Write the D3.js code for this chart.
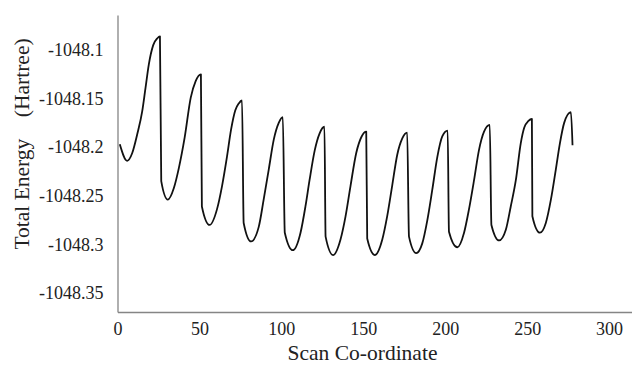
<!DOCTYPE html>
<html lang="en">
<head>
<meta charset="UTF-8">
<title>Total Energy scan</title>
<script src="https://d3js.org/d3.v7.min.js"></script>
<style>
    body { margin: 0; background: #fff; }
    .axis path { stroke: #858585; stroke-width: 1.3; }
    .tick-label { font-family: "Liberation Serif", serif !important; font-size: 18px !important; fill: #222; }
    .axis-title { font-family: "Liberation Serif", serif; font-size: 21.5px; fill: #222; }
</style>
</head>
<body>
<svg width="632" height="367"></svg>
<script>
    // values
    const scanX = [
        1.4, 5.9, 9.0, 12.0, 15.1, 17.1, 19.1, 21.8, 24.3, 25.9,
        26.7, 30.7, 34.4, 37.5, 41.0, 44.7, 47.7, 50.9,
        51.5, 56.2, 60.7, 63.8, 66.8, 69.3, 71.9, 74.0, 76.0,
        77.0, 81.5, 86.2, 89.2, 92.3, 95.4, 98.4, 100.9,
        102.1, 107.0, 111.7, 114.7, 117.2, 120.4, 123.3, 126.3,
        127.0, 131.6, 136.1, 139.2, 142.2, 145.7, 149.0, 151.8,
        152.4, 157.1, 161.6, 164.6, 167.7, 170.7, 173.8, 176.8,
        177.9, 182.3, 186.0, 189.1, 192.1, 195.2, 198.2, 201.5,
        202.3, 207.4, 211.5, 214.5, 217.6, 220.6, 223.7, 227.2,
        228.2, 232.9, 237.0, 240.0, 243.1, 246.1, 248.2, 250.8, 252.9,
        253.2, 257.8, 261.4, 264.5, 267.5, 270.0, 272.6, 276.7,
        277.7
    ];
    const energy = [
        -1048.197, -1048.214, -1048.206, -1048.187, -1048.163, -1048.139, -1048.115, -1048.095, -1048.088, -1048.086,
        -1048.235, -1048.254, -1048.242, -1048.221, -1048.190, -1048.149, -1048.132, -1048.125,
        -1048.261, -1048.280, -1048.264, -1048.240, -1048.210, -1048.182, -1048.162, -1048.155, -1048.152,
        -1048.278, -1048.297, -1048.282, -1048.254, -1048.223, -1048.192, -1048.175, -1048.169,
        -1048.288, -1048.306, -1048.288, -1048.261, -1048.234, -1048.203, -1048.186, -1048.179,
        -1048.292, -1048.311, -1048.295, -1048.271, -1048.240, -1048.206, -1048.189, -1048.184,
        -1048.294, -1048.311, -1048.295, -1048.271, -1048.239, -1048.208, -1048.191, -1048.185,
        -1048.292, -1048.309, -1048.299, -1048.275, -1048.244, -1048.210, -1048.189, -1048.183,
        -1048.287, -1048.303, -1048.288, -1048.264, -1048.234, -1048.203, -1048.184, -1048.177,
        -1048.280, -1048.296, -1048.285, -1048.261, -1048.234, -1048.196, -1048.180, -1048.173, -1048.171,
        -1048.271, -1048.288, -1048.278, -1048.254, -1048.223, -1048.196, -1048.175, -1048.164,
        -1048.198
    ];
    const xTicks = [0, 50, 100, 150, 200, 250, 300];
    const yTicks = [-1048.35, -1048.3, -1048.25, -1048.2, -1048.15, -1048.1];

    const data = scanX.map((x, i) => ({ x: x, y: energy[i] }));

    const svg = d3.select("svg");
    const plot = { left: 117.5, right: 632, top: 15, bottom: 312 };

    const x = d3.scaleLinear().domain([0, 314]).range([plot.left, plot.right]);
    const y = d3.scaleLinear().domain([-1048.3696, -1048.064]).range([plot.bottom, plot.top]);

    const fmt = d => String(+d.toFixed(2));

    svg.append("g")
        .attr("class", "axis")
        .attr("transform", `translate(0,${plot.bottom})`)
        .call(d3.axisBottom(x).tickValues(xTicks).tickFormat(fmt).tickSize(0).tickPadding(10).tickSizeOuter(0))
        .call(g => g.selectAll("text").attr("class", "tick-label").attr("fill", null));

    svg.append("g")
        .attr("class", "axis")
        .attr("transform", `translate(${plot.left},0)`)
        .call(d3.axisLeft(y).tickValues(yTicks).tickFormat(fmt).tickSize(0).tickPadding(14).tickSizeOuter(0))
        .call(g => g.selectAll("text").attr("class", "tick-label").attr("fill", null));

    // the curve
    const line = d3.line()
        .x(d => x(d.x))
        .y(d => y(d.y))
        .curve(d3.curveMonotoneX);

    svg.append("path")
        .datum(data)
        .attr("fill", "none")
        .attr("stroke", "#111")
        .attr("stroke-width", 1.8)
        .attr("stroke-linejoin", "round")
        .attr("d", line);

    // axis titles
    svg.append("text")
        .attr("class", "axis-title")
        .attr("x", 362.5)
        .attr("y", 360)
        .attr("text-anchor", "middle")
        .text("Scan Co-ordinate");

    svg.append("text")
        .attr("class", "axis-title")
        .attr("transform", "translate(29,144) rotate(-90)")
        .attr("text-anchor", "middle")
        .text("Total Energy \u00a0\u00a0 (Hartree)");
</script>
</body>
</html>
